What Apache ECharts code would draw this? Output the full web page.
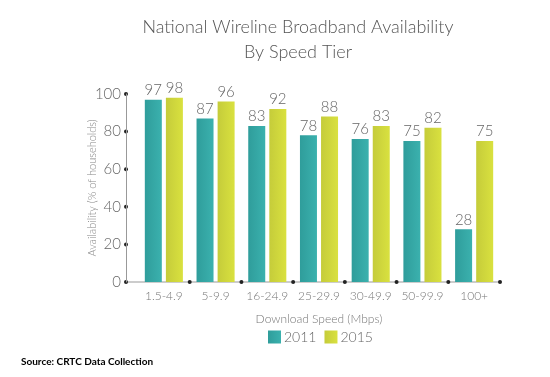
<!DOCTYPE html>
<html>
<head>
<meta charset="utf-8">
<script src="https://cdn.jsdelivr.net/npm/echarts@6/dist/echarts.min.js"></script>
<style>
  html, body { margin: 0; padding: 0; background: #fff; }
  #chart { width: 550px; height: 377px; }
</style>
</head>
<body>
<div id="chart"></div>
<script>
const categories = ['1.5-4.9', '5-9.9', '16-24.9', '25-29.9', '30-49.9', '50-99.9', '100+']
const values2011 = [97, 87, 83, 78, 76, 75, 28]
const values2015 = [98, 96, 92, 88, 83, 82, 75]
const yTicks = [0, 20, 40, 60, 80, 100]

const font = 'Lato, "Liberation Sans", sans-serif'
const tealGrad = new echarts.graphic.LinearGradient(0, 0, 1, 0, [
  { offset: 0, color: '#2f9d9b' },
  { offset: 1, color: '#3bb1ae' }
])
const yellowGrad = new echarts.graphic.LinearGradient(0, 0, 1, 0, [
  { offset: 0, color: '#c5cc3a' },
  { offset: 1, color: '#d9e13f' }
])

const chart = echarts.init(document.getElementById('chart'))

const labelStyle = {
  show: true,
  position: 'top',
  distance: 2,
  color: '#666',
  fontSize: 15,
  fontWeight: 300,
  fontFamily: font
}

chart.setOption({
  animation: false,
  title: {
    text: 'National Wireline Broadband Availability\nBy Speed Tier',
    left: 293,
    top: 10,
    textAlign: 'center',
    textStyle: {
      color: '#555',
      fontSize: 18,
      fontWeight: 300,
      fontFamily: font,
      lineHeight: 25
    }
  },
  legend: {
    data: ['2011', '2015'],
    icon: 'rect',
    left: 263,
    top: 325,
    itemWidth: 13,
    itemHeight: 13,
    itemGap: 8,
    textStyle: { color: '#666', fontSize: 14, fontWeight: 300, fontFamily: font, padding: [0, 0, 0, -2] }
  },
  grid: { left: 138, right: 50, top: 94, bottom: 95 },
  xAxis: {
    type: 'category',
    data: categories,
    name: 'Download Speed (Mbps)',
    nameLocation: 'middle',
    nameGap: 31,
    nameMoveOverlap: false,
    nameTextStyle: { color: '#777', fontSize: 12, fontWeight: 300, fontFamily: font },
    axisLine: { show: false },
    axisTick: { show: false },
    axisLabel: { interval: 0, color: '#777', fontSize: 12, fontWeight: 300, fontFamily: font, margin: 8 }
  },
  yAxis: {
    type: 'value',
    min: 0,
    max: 100,
    interval: 20,
    offset: 12,
    name: 'Availability (% of households)',
    nameLocation: 'middle',
    nameGap: 28,
    nameMoveOverlap: false,
    nameTextStyle: { color: '#888', fontSize: 11, fontWeight: 300, fontFamily: font },
    axisLine: { show: true, lineStyle: { color: '#999', width: 1 } },
    axisTick: { show: false },
    splitLine: { show: false },
    axisLabel: { color: '#666', fontSize: 15, fontWeight: 300, fontFamily: font, margin: 5 }
  },
  series: [
    {
      name: '2011',
      type: 'bar',
      data: values2011,
      barWidth: 17,
      barGap: '24%',
      itemStyle: { color: tealGrad },
      label: labelStyle
    },
    {
      name: '2015',
      type: 'bar',
      data: values2015,
      barWidth: 17,
      itemStyle: { color: yellowGrad },
      label: labelStyle
    }
  ]
})

// bottom axis line and dot ticks, placed from the chart's own scales
const y0 = chart.convertToPixel({ yAxisIndex: 0 }, 0)
const c0 = chart.convertToPixel({ xAxisIndex: 0 }, 0)
const c1 = chart.convertToPixel({ xAxisIndex: 0 }, 1)
const band = c1 - c0
const axisX = c0 - band / 2 - 12
const endX = c0 + band * (categories.length - 0.5)

const graphics = [
  {
    type: 'line',
    shape: { x1: axisX, y1: y0, x2: endX, y2: y0 },
    style: { stroke: '#999', lineWidth: 1 }
  },
  {
    type: 'text',
    left: 21,
    top: 357,
    style: {
      text: 'Source: CRTC Data Collection',
      fill: '#000',
      font: 'bold 10px Lato, "Liberation Sans", sans-serif'
    }
  }
]
yTicks.forEach(v => {
  graphics.push({
    type: 'circle',
    shape: { cx: axisX, cy: chart.convertToPixel({ yAxisIndex: 0 }, v), r: 2 },
    style: { fill: '#222' }
  })
})
for (let k = 1; k <= categories.length; k++) {
  graphics.push({
    type: 'circle',
    shape: { cx: c0 - band / 2 + band * k, cy: y0, r: 2 },
    style: { fill: '#222' }
  })
}
chart.setOption({ graphic: graphics })
</script>
</body>
</html>
